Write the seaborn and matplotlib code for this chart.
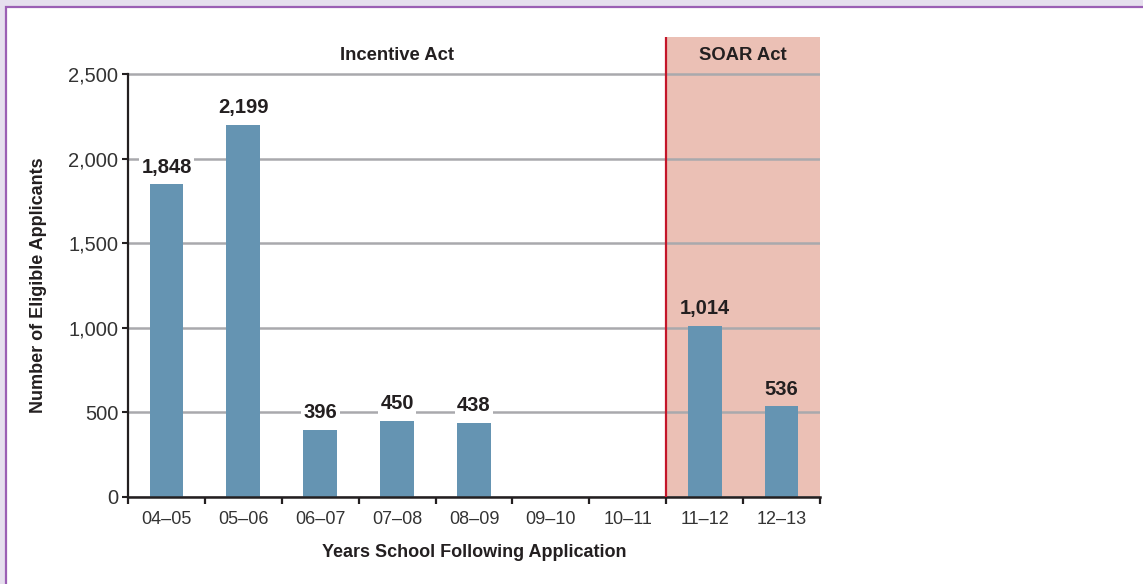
import numpy as np
import pandas as pd
import matplotlib
matplotlib.use("Agg")
import matplotlib.pyplot as plt
from matplotlib.patches import Rectangle
import seaborn as sns

# ---- data ----
years = ["04–05", "05–06", "06–07", "07–08", "08–09", "09–10", "10–11", "11–12", "12–13"]
applicants = [1848, 2199, 396, 450, 438, np.nan, np.nan, 1014, 536]
programs = ["Incentive Act", "Incentive Act", "Incentive Act", "Incentive Act", "Incentive Act",
            "Incentive Act", "Incentive Act", "SOAR Act", "SOAR Act"]
y_ticks = [0, 500, 1000, 1500, 2000, 2500]
y_ticklabels = ["0", "500", "1,000", "1,500", "2,000", "2,500"]
x_label = "Years School Following Application"
y_label = "Number of Eligible Applicants"

df = pd.DataFrame({"year": years, "applicants": applicants, "program": programs})

sns.set_theme(style="white")
plt.rcParams["font.family"] = ["Liberation Sans", "DejaVu Sans"]

TEXT = "#231f20"
BAR = "#6594b2"
PINK = "#ebc0b5"
GRID = "#a9a9ad"
RED = "#c4162a"

fig = plt.figure(figsize=(11.43, 5.84), dpi=100)
fig.patch.set_facecolor("#e6dfee")
W, H = 1143, 584
fig.add_artist(Rectangle((6 / W, -0.05), 1.2, (H - 6.5) / H + 0.05,
                         transform=fig.transFigure, facecolor="white",
                         edgecolor="#9b5fb4", linewidth=1.6, zorder=0))

ax = fig.add_axes([128 / W, (H - 497) / H, (820 - 128) / W, (497 - 37) / H])
ax.set_facecolor("none")

# SOAR shaded region and divider
ax.axvspan(6.5, 8.5, color=PINK, zorder=0.2, lw=0)
ax.axvline(6.5, color=RED, lw=1.6, zorder=3)

sns.barplot(data=df, x="year", y="applicants", order=years, color=BAR,
            saturation=1, width=0.44, errorbar=None, ax=ax, zorder=2,
            linewidth=0, edgecolor=BAR)

ax.set_xlim(-0.5, 8.5)
ax.set_ylim(0, 2720)

# gridlines up to 2500 only
ax.set_yticks(y_ticks)
ax.set_yticklabels(y_ticklabels)
ax.set_axisbelow(True)
ax.yaxis.grid(True, color=GRID, lw=1.8, zorder=0.5)
ax.xaxis.grid(False)

# spines
for s in ["top", "right"]:
    ax.spines[s].set_visible(False)
ax.spines["left"].set_bounds(0, 2500)
ax.spines["left"].set_linewidth(1.6)
ax.spines["bottom"].set_linewidth(1.8)
ax.spines["left"].set_color(TEXT)
ax.spines["bottom"].set_color(TEXT)

# ticks
ax.tick_params(axis="y", which="major", left=True, length=4, width=1.5, color=TEXT,
               labelsize=14.5, labelcolor="#333333", pad=3)
ax.set_xticks(range(len(years)))
ax.set_xticklabels(years)
ax.tick_params(axis="x", which="major", bottom=True, length=0, labelsize=13,
               labelcolor="#333333", pad=10)
ax.set_xticks(np.arange(-0.5, len(years), 1.0), minor=True)
ax.tick_params(axis="x", which="minor", bottom=True, length=5, width=1.6, color=TEXT)

# axis labels
ax.set_xlabel(x_label, fontsize=13, fontweight="bold", color=TEXT)
ax.xaxis.set_label_coords(0.5, -0.102)
ax.xaxis.label.set_va("top")
ax.set_ylabel(y_label, fontsize=13, fontweight="bold", color=TEXT)
ax.yaxis.set_label_coords(-0.117, 0.461)

# value labels
for i, (v, p) in enumerate(zip(applicants, programs)):
    if np.isnan(v):
        continue
    bg = PINK if p == "SOAR Act" else "white"
    ax.annotate(f"{int(v):,}", (i, v), xytext=(0, 5.5), textcoords="offset points",
                ha="center", va="bottom", fontsize=14.5, fontweight="bold", color=TEXT,
                bbox=dict(boxstyle="square,pad=0.12", fc=bg, ec="none"), zorder=4)

# section titles
ax.text(3.0, 2612, "Incentive Act", ha="center", va="center", fontsize=13.3,
        fontweight="bold", color=TEXT)
ax.text(7.5, 2612, "SOAR Act", ha="center", va="center", fontsize=13.3,
        fontweight="bold", color=TEXT)

fig.savefig("out.png", dpi=100, facecolor=fig.get_facecolor())
